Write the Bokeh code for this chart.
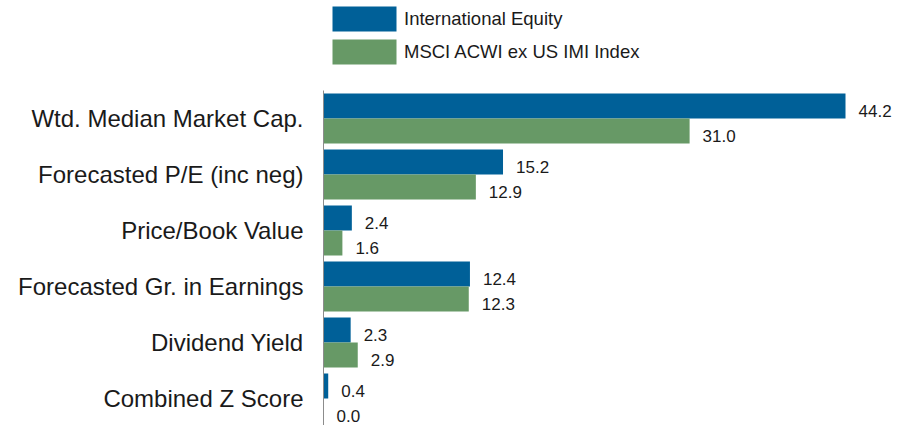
from bokeh.plotting import figure
from bokeh.models import ColumnDataSource, Range1d, FixedTicker, Legend, LegendItem
from bokeh.transform import dodge
from bokeh.core.properties import value
from bokeh.embed import file_html
from bokeh.resources import INLINE

categories = ["Wtd. Median Market Cap.", "Forecasted P/E (inc neg)", "Price/Book Value",
              "Forecasted Gr. in Earnings", "Dividend Yield", "Combined Z Score"]
intl_equity = [44.2, 15.2, 2.4, 12.4, 2.3, 0.4]
msci_index = [31.0, 12.9, 1.6, 12.3, 2.9, 0.0]
series_names = ["International Equity", "MSCI ACWI ex US IMI Index"]

BLUE = "#006098"
GREEN = "#679966"
FONT = "Liberation Sans"
PX_PER_CAT = 56.0

ypos = [-i for i in range(len(categories))]
src = ColumnDataSource(dict(
    y=ypos, cat=categories, a=intl_equity, b=msci_index,
    a_lbl=[f"{v:.1f}" for v in intl_equity],
    b_lbl=[f"{v:.1f}" for v in msci_index],
))

H = 425
TOP_PAD = 90
y_top = 0.5 + TOP_PAD / PX_PER_CAT
y_bot = 0.5 - (H - TOP_PAD) / PX_PER_CAT

p = figure(width=905, height=H, output_backend="svg", toolbar_location=None,
           x_range=Range1d(0, 582 / 11.81), y_range=Range1d(y_bot, y_top),
           min_border_left=323, min_border_right=0, min_border_top=0, min_border_bottom=0)
p.outline_line_color = None
p.background_fill_color = "white"
p.border_fill_color = "white"
p.xgrid.visible = False
p.ygrid.visible = False
p.xaxis.visible = False

off = 0.2232
bh = 0.4464
ra = p.hbar(y=dodge("y", off), right="a", height=bh, left=0, source=src,
            fill_color=BLUE, line_color=None)
rb = p.hbar(y=dodge("y", -off), right="b", height=bh, left=0, source=src,
            fill_color=GREEN, line_color=None)

p.text(x="a", y=dodge("y", off), text="a_lbl", source=src, x_offset=13, y_offset=5,
       text_font=value(FONT), text_font_size="17px", text_baseline="middle",
       text_color="#1a1a1a")
p.text(x="b", y=dodge("y", -off), text="b_lbl", source=src, x_offset=13, y_offset=5,
       text_font=value(FONT), text_font_size="17px", text_baseline="middle",
       text_color="#1a1a1a")

ax = p.yaxis[0]
ax.ticker = FixedTicker(ticks=ypos)
ax.bounds = (y_bot, 0.5)
ax.major_label_overrides = {y: c for y, c in zip(ypos, categories)}
ax.major_tick_line_color = None
ax.minor_tick_line_color = None
ax.axis_line_color = "#8c8c8c"
ax.major_label_standoff = 14
ax.major_label_text_font = FONT
ax.major_label_text_font_size = "24px"
ax.major_label_text_color = "#1a1a1a"

legend = Legend(items=[LegendItem(label=series_names[0], renderers=[ra]),
                       LegendItem(label=series_names[1], renderers=[rb])],
                location=(1, H - 67), orientation="vertical",
                padding=0, margin=0, spacing=2,
                glyph_width=80, glyph_height=31, label_height=31,
                label_standoff=0, label_text_font=FONT, label_text_font_size="18.5px",
                label_text_color="#1a1a1a", label_text_baseline="middle",
                border_line_color=None, background_fill_alpha=0)
p.add_layout(legend, "center")

open("out.html", "w").write(file_html(p, INLINE))
